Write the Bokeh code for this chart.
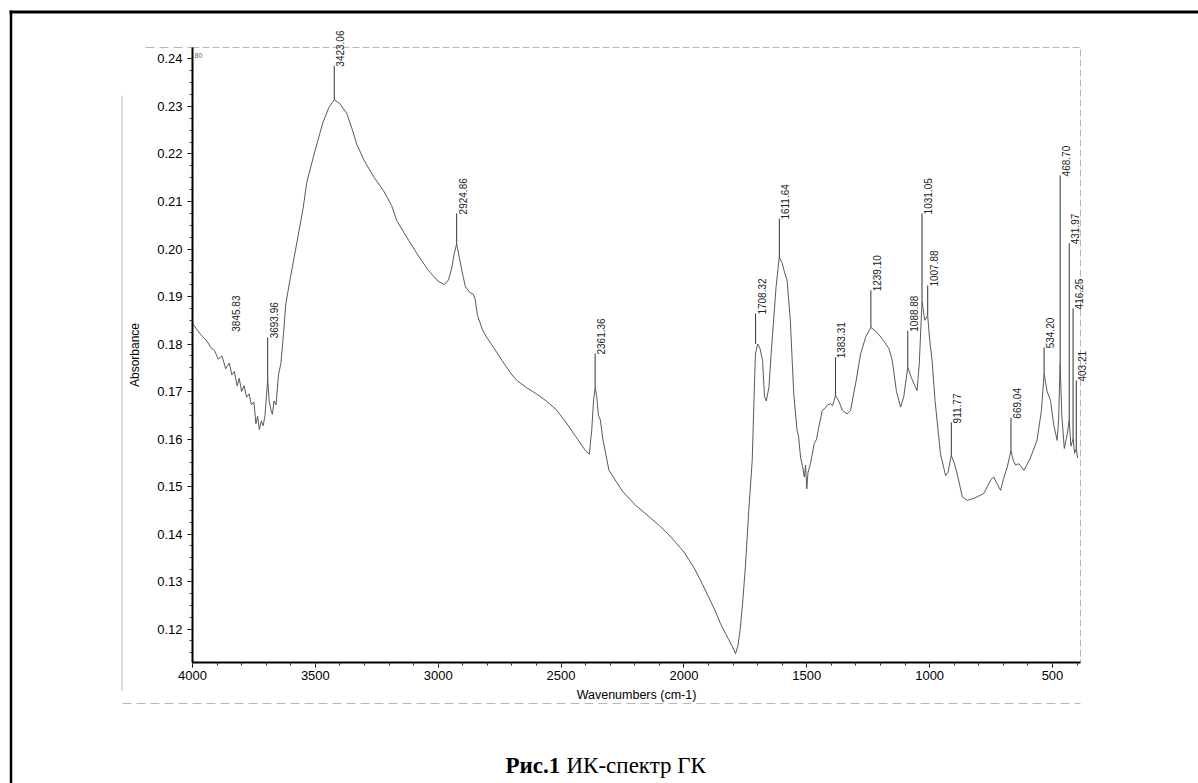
import math
from bokeh.plotting import figure
from bokeh.models import (Range1d, SingleIntervalTicker, NumeralTickFormatter, LabelSet,
                          Label, ColumnDataSource, BoxAnnotation)
from bokeh.core.properties import value
from bokeh.embed import file_html
from bokeh.resources import INLINE

# ---------------- data ----------------
wavenumber = [
    4000, 3970, 3940, 3925, 3910, 3895, 3880, 3865, 3850, 3840, 3830, 3818, 3810, 3800,
    3790, 3780, 3770, 3760, 3750, 3742, 3735, 3728, 3720, 3712, 3705, 3699, 3694, 3688,
    3680, 3675, 3668, 3660, 3650, 3640, 3630, 3620, 3605, 3590, 3570, 3550, 3535, 3505,
    3470, 3445, 3423, 3400, 3372, 3350, 3332, 3300, 3260, 3223, 3190, 3169, 3120, 3080,
    3040, 3000, 2975, 2958, 2945, 2935, 2925, 2915, 2900, 2889, 2870, 2858, 2850, 2840,
    2820, 2800, 2775, 2740, 2700, 2679, 2640, 2600, 2560, 2520, 2480, 2440, 2400, 2385,
    2375, 2368, 2361, 2355, 2348, 2340, 2330, 2305, 2250, 2200, 2150, 2100, 2050, 2000,
    1960, 1932, 1900, 1870, 1851, 1820, 1800, 1790, 1780, 1770, 1760, 1750, 1736, 1722,
    1715, 1709, 1700, 1690, 1680, 1672, 1665, 1654, 1645, 1635, 1625, 1612, 1600, 1590,
    1580, 1567, 1553, 1540, 1533, 1525, 1518, 1510, 1505, 1500, 1495, 1485, 1470, 1460,
    1451, 1437, 1425, 1415, 1403, 1395, 1383, 1370, 1355, 1336, 1322, 1300, 1281, 1260,
    1239, 1215, 1187, 1165, 1152, 1135, 1118, 1105, 1089, 1075, 1060, 1051, 1042, 1031,
    1020, 1008, 1000, 990, 978, 956, 935, 925, 912, 900, 888, 867, 847, 820,
    800, 780, 765, 750, 739, 725, 711, 700, 684, 669, 660, 650, 637, 616,
    590, 563, 545, 534, 522, 508, 495, 481, 475, 469, 462, 452, 440, 432,
    425, 416, 410, 403, 398,
]
absorbance = [
    0.1843, 0.1822, 0.1805, 0.1792, 0.1786, 0.1768, 0.1775, 0.1748, 0.1760, 0.1735, 0.1742, 0.1712, 0.1728, 0.1700,
    0.1712, 0.1688, 0.1695, 0.1672, 0.1678, 0.1632, 0.1648, 0.1620, 0.1638, 0.1628, 0.1650, 0.1690, 0.1725, 0.1680,
    0.1660, 0.1652, 0.1680, 0.1672, 0.1735, 0.1760, 0.1820, 0.1885, 0.1930, 0.1972, 0.2028, 0.2085, 0.2140, 0.2200,
    0.2265, 0.2298, 0.2314, 0.2306, 0.2285, 0.2252, 0.2221, 0.2185, 0.2150, 0.2123, 0.2092, 0.2060, 0.2018, 0.1985,
    0.1955, 0.1932, 0.1925, 0.1935, 0.1960, 0.1990, 0.2011, 0.1985, 0.1945, 0.1920, 0.1908, 0.1905, 0.1895, 0.1860,
    0.1830, 0.1812, 0.1793, 0.1765, 0.1735, 0.1723, 0.1708, 0.1695, 0.1680, 0.1662, 0.1635, 0.1605, 0.1575, 0.1568,
    0.1620, 0.1680, 0.1709, 0.1690, 0.1650, 0.1640, 0.1600, 0.1534, 0.1490, 0.1462, 0.1440, 0.1418, 0.1392, 0.1362,
    0.1330, 0.1302, 0.1268, 0.1235, 0.1211, 0.1180, 0.1160, 0.1148, 0.1165, 0.1204, 0.1262, 0.1330, 0.1450, 0.1555,
    0.1680, 0.1779, 0.1800, 0.1790, 0.1765, 0.1690, 0.1680, 0.1709, 0.1780, 0.1850, 0.1920, 0.1983, 0.1970, 0.1950,
    0.1934, 0.1850, 0.1695, 0.1620, 0.1604, 0.1560, 0.1545, 0.1520, 0.1545, 0.1495, 0.1530, 0.1548, 0.1590, 0.1600,
    0.1625, 0.1660, 0.1665, 0.1672, 0.1674, 0.1670, 0.1692, 0.1680, 0.1660, 0.1653, 0.1660, 0.1720, 0.1779, 0.1815,
    0.1835, 0.1825, 0.1807, 0.1790, 0.1765, 0.1700, 0.1667, 0.1690, 0.1751, 0.1730, 0.1712, 0.1702, 0.1760, 0.1890,
    0.1850, 0.1860, 0.1810, 0.1765, 0.1681, 0.1569, 0.1523, 0.1530, 0.1565, 0.1550, 0.1527, 0.1478, 0.1471, 0.1475,
    0.1480, 0.1485, 0.1500, 0.1515, 0.1520, 0.1505, 0.1492, 0.1515, 0.1541, 0.1576, 0.1555, 0.1545, 0.1548, 0.1534,
    0.1560, 0.1597, 0.1660, 0.1738, 0.1700, 0.1681, 0.1630, 0.1597, 0.1640, 0.1760, 0.1650, 0.1580, 0.1610, 0.1640,
    0.1585, 0.1600, 0.1570, 0.1580, 0.1560,
]

peak_labels = ["3845.83", "3693.96", "3423.06", "2924.86", "2361.36", "1708.32", "1611.64",
               "1383.31", "1239.10", "1088.88", "1031.05", "1007.88", "911.77", "669.04",
               "534.20", "468.70", "431.97", "416.25", "403.21"]
peak_wn = [3845.83, 3693.96, 3423.06, 2924.86, 2361.36, 1708.32, 1611.64,
           1383.31, 1239.10, 1088.88, 1031.05, 1007.88, 911.77, 669.04,
           534.20, 468.70, 431.97, 416.25, 403.21]
peak_abs = [0.1828, 0.1725, 0.2314, 0.2011, 0.1709, 0.1800, 0.1983,
            0.1692, 0.1835, 0.1751, 0.1890, 0.1860, 0.1565, 0.1576,
            0.1738, 0.1760, 0.1640, 0.1600, 0.1580]
label_abs = [0.1828, 0.1814, 0.2386, 0.2075, 0.1780, 0.1864, 0.2064,
             0.1772, 0.1913, 0.1828, 0.2075, 0.1923, 0.1635, 0.1645,
             0.1793, 0.2155, 0.2012, 0.1875, 0.1723]

x_title = "Wavenumbers (cm-1)"
y_title = "Absorbance"
caption_bold = "Рис.1"
caption_rest = "ИК-спектр ГК"

# ---------------- geometry ----------------
W, H = 1198, 783
FL, FR, FT, FB = 192, 1080, 47, 662          # axis box on the page
X0, X1 = 4000.0, 386.0                       # wavenumbers at FL / FR
Y0, Y1 = 0.11295, 0.24242                    # absorbance at FB / FT


def px2x(px):
    return X0 + (px - FL) / (FR - FL) * (X1 - X0)


def px2y(py):
    return Y1 - (py - FT) / (FB - FT) * (Y1 - Y0)


p = figure(width=W, height=H, output_backend="svg", toolbar_location=None,
           x_range=Range1d(px2x(0), px2x(W)), y_range=Range1d(px2y(H), px2y(0)),
           min_border=0, min_border_left=0, min_border_right=0,
           min_border_top=0, min_border_bottom=0)
p.background_fill_color = "white"
p.border_fill_color = "white"
p.outline_line_color = None
p.xgrid.visible = False
p.ygrid.visible = False

# axes (drawn at the axis box edges)
p.xaxis.fixed_location = Y0
p.yaxis.fixed_location = X0
p.xaxis.bounds = (X1, X0)
p.yaxis.bounds = (Y0, Y1)
p.xaxis.ticker = SingleIntervalTicker(interval=500, num_minor_ticks=5)
p.yaxis.ticker = SingleIntervalTicker(interval=0.01, num_minor_ticks=4)
p.yaxis.formatter = NumeralTickFormatter(format="0.00")
for ax in (p.xaxis[0], p.yaxis[0]):
    ax.axis_line_color = "black"
    ax.axis_line_width = 2
    ax.major_tick_line_color = "black"
    ax.minor_tick_line_color = "#333333"
    ax.major_tick_in = 0
    ax.major_tick_out = 5
    ax.minor_tick_in = 0
    ax.minor_tick_out = 3
    ax.major_label_text_font = "Liberation Sans"
    ax.major_label_text_font_size = "13px"
    ax.major_label_text_color = "black"
    ax.axis_label_text_font = "Liberation Sans"
    ax.axis_label_text_font_style = "normal"
    ax.axis_label_text_color = "black"
p.xaxis.axis_label = x_title
p.yaxis.axis_label = y_title
p.xaxis.axis_label_text_font_size = "12.5px"
p.yaxis.axis_label_text_font_size = "12px"
p.xaxis.major_label_standoff = 3
p.yaxis.major_label_standoff = 5
p.xaxis.axis_label_standoff = 5
p.yaxis.axis_label_standoff = 12

# faint dashed print frame round the axis box (top / right)
p.add_layout(BoxAnnotation(left=X0, right=X1, top=Y1, bottom=Y0, level="underlay",
                           fill_alpha=0, line_color="#9a9a9a", line_dash="7 3",
                           line_width=1, line_alpha=0.7))

# spectrum
p.line(wavenumber, absorbance, line_color="#505050", line_width=0.95)

# peak markers
p.segment(x0=peak_wn, y0=peak_abs, x1=peak_wn, y1=label_abs,
          line_color="#333333", line_width=1)
src = ColumnDataSource(dict(x=peak_wn, y=label_abs, t=peak_labels))
p.add_layout(LabelSet(x="x", y="y", text="t", source=src, angle=math.pi / 2,
                      x_offset=6, y_offset=-1,
                      text_align="left", text_baseline="middle",
                      text_font=value("Liberation Sans"), text_font_size=value("10px"),
                      text_color="#222222"))

# small scan remnant near the top-left corner
p.add_layout(Label(x=px2x(194), y=px2y(57), text="80", text_font="Liberation Sans",
                   text_font_size="7px", text_color="#666666"))

# outer page frame (top and left rules)
p.segment(x0=[px2x(9), px2x(10.5)], y0=[px2y(11.5), px2y(10)],
          x1=[px2x(W), px2x(10.5)], y1=[px2y(11.5), px2y(H)],
          line_color="black", line_width=[3, 2.5])
# faint remains of the printout frame
p.segment(x0=[px2x(121.5)], y0=[px2y(95)], x1=[px2x(121.5)], y1=[px2y(690)],
          line_color="#8a8a8a", line_width=1, line_alpha=0.6)
p.segment(x0=[px2x(122), px2x(145)], y0=[px2y(703), px2y(47)],
          x1=[px2x(1080), px2x(192)], y1=[px2y(703), px2y(47)],
          line_color="#9a9a9a", line_width=1, line_alpha=0.7, line_dash="9 5")

# caption
p.add_layout(Label(x=px2x(505), y=px2y(765), text=caption_bold, text_font="Liberation Serif",
                   text_font_size="23px", text_font_style="bold", text_color="black",
                   text_baseline="alphabetic"))
p.add_layout(Label(x=px2x(566), y=px2y(765), text=caption_rest, text_font="Liberation Serif",
                   text_font_size="23px", text_color="black", text_baseline="alphabetic"))

open("out.html", "w").write(file_html(p, INLINE))
